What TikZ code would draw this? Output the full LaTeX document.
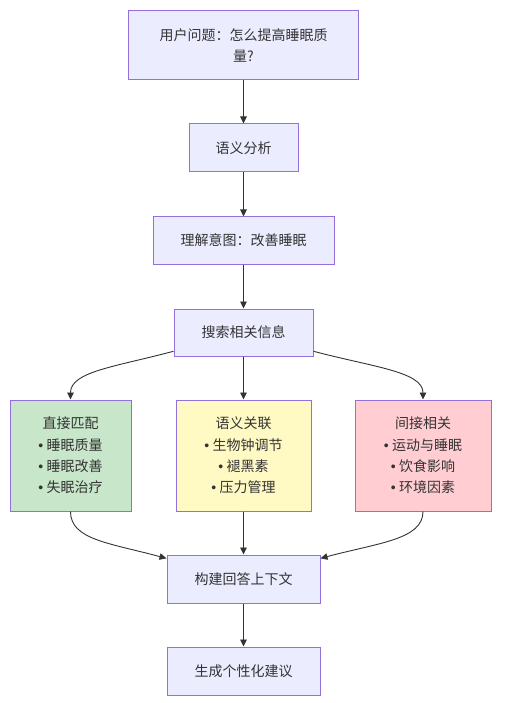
\documentclass[tikz,border=0pt]{standalone}
\usepackage{fontspec}
\setmainfont{Noto Sans CJK SC}
\newfontfamily\bulletfont{Liberation Sans}
\usepackage{tikz}
\usetikzlibrary{arrows.meta,positioning}
\definecolor{boxfill}{HTML}{ECECFF}
\definecolor{boxline}{HTML}{9370DB}
\definecolor{edgecol}{HTML}{333333}
\definecolor{greenfill}{HTML}{C8E6C9}
\definecolor{yellowfill}{HTML}{FFF9C4}
\definecolor{pinkfill}{HTML}{FFCDD2}
\newcommand{\itm}{{\bulletfont•}\ }
\tikzset{box/.style={draw=boxline,fill=boxfill,line width=1pt,inner sep=0pt,
text=edgecol,align=center,font=\fontsize{14}{21}\selectfont},
flow/.style={draw=edgecol,line width=0.9pt,-{Triangle[length=7pt,width=6.5pt]}}}

\begin{document}
\begin{tikzpicture}[x=1pt,y=1pt]
	\useasboundingbox (0,0) rectangle (504,-703);
	\node[box,minimum width=230pt,minimum height=69pt] (q) at (243.5,-45.5) {用户问题：怎么提高睡眠质\\量?};
	\node[box,minimum width=109pt,minimum height=48pt] (parse) at (243.5,-148) {语义分析};
	\node[box,minimum width=181pt,minimum height=47pt] (intent) at (243.5,-240.5) {理解意图：改善睡眠};
	\node[box,minimum width=139pt,minimum height=47pt] (search) at (243.5,-332.5) {搜索相关信息};

	\node[box,fill=greenfill,minimum width=121pt,minimum height=111pt,font=\fontsize{14}{21.3}\selectfont] (direct) at (70.5,-455.5) {直接匹配\\\itm 睡眠质量\\\itm 睡眠改善\\\itm 失眠治疗};
	\node[box,fill=yellowfill,minimum width=135pt,minimum height=111pt,font=\fontsize{14}{21.3}\selectfont] (semantic) at (243.5,-455.5) {语义关联\\\itm 生物钟调节\\\itm 褪黑素\\\itm 压力管理};
	\node[box,fill=pinkfill,minimum width=136pt,minimum height=111pt,font=\fontsize{14}{21.3}\selectfont] (indirect) at (423,-455.5) {间接相关\\\itm 运动与睡眠\\\itm 饮食影响\\\itm 环境因素};

	\node[box,minimum width=153pt,minimum height=48pt] (context) at (243.5,-579) {构建回答上下文};
	\node[box,minimum width=153pt,minimum height=48pt] (advice) at (243.5,-671) {生成个性化建议};

	\draw[flow] (q) -- (parse);
	\draw[flow] (parse) -- (intent);
	\draw[flow] (intent) -- (search);
	\draw[flow] (search.195) to[out=195,in=90,out distance=60pt,in distance=28pt] (direct.north);
	\draw[flow] (search) -- (semantic);
	\draw[flow] (search.345) to[out=345,in=90,out distance=60pt,in distance=28pt] (indirect.north);
	\draw[flow] (direct.south) to[out=270,in=165,out distance=28pt,in distance=60pt] (context.165);
	\draw[flow] (semantic) -- (context);
	\draw[flow] (indirect.south) to[out=270,in=15,out distance=28pt,in distance=60pt] (context.15);
	\draw[flow] (context) -- (advice);
\end{tikzpicture}
\end{document}
